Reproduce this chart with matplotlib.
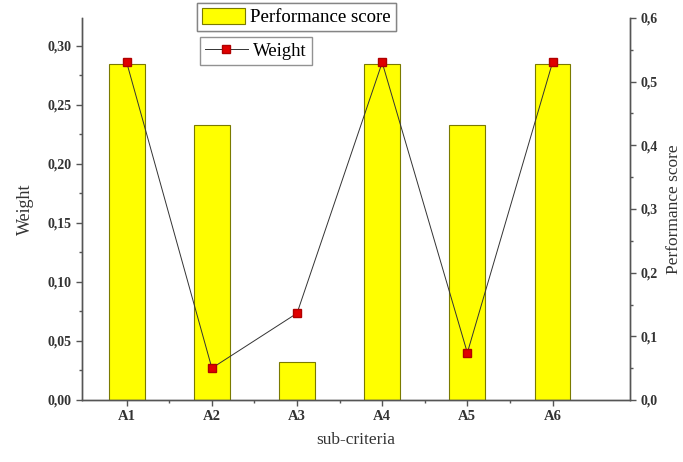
import matplotlib
matplotlib.use("Agg")
import matplotlib.pyplot as plt
from matplotlib.ticker import FixedLocator, MultipleLocator, FuncFormatter

categories = ["A1", "A2", "A3", "A4", "A5", "A6"]
performance = [0.527, 0.432, 0.059, 0.527, 0.432, 0.527]
weight = [0.286, 0.027, 0.0735, 0.286, 0.040, 0.286]

plt.rcParams['font.family'] = ['Liberation Serif', 'DejaVu Serif']

fig = plt.figure(figsize=(6.83, 4.62), dpi=100)
ax = fig.add_axes([82/683, 62/462, 548/683, 382/462])
ax2 = ax.twinx()
ax.set_zorder(2)
ax.patch.set_visible(False)

x = list(range(1, len(categories) + 1))
bars = ax2.bar(x, performance, width=0.42, color="#FFFF00", edgecolor="#7a7a00",
               linewidth=0.8, label="Performance score")
line, = ax.plot(x, weight, color="#333333", linewidth=0.7, marker="s", markersize=5.5,
                markerfacecolor="#e00000", markeredgecolor="#b00000", label="Weight")

ax.set_xlim(0.475, 6.91)
ax.set_ylim(0, 0.3237)
ax2.set_ylim(0, 0.6)

ax.set_xticks(x)
ax.set_xticklabels(categories, fontweight="bold", fontsize=10.5)
ax.xaxis.set_minor_locator(FixedLocator([1.5, 2.5, 3.5, 4.5, 5.5]))
ax.set_yticks([0, 0.05, 0.10, 0.15, 0.20, 0.25, 0.30])
ax.yaxis.set_minor_locator(MultipleLocator(0.025))
ax.yaxis.set_major_formatter(FuncFormatter(lambda v, p: f"{v:.2f}".replace(".", ",")))
ax2.set_yticks([0, 0.1, 0.2, 0.3, 0.4, 0.5, 0.6])
ax2.yaxis.set_minor_locator(MultipleLocator(0.05))
ax2.yaxis.set_major_formatter(FuncFormatter(lambda v, p: f"{v:.1f}".replace(".", ",")))

for a in (ax, ax2):
    a.spines["top"].set_visible(False)
    for s in a.spines.values():
        s.set_color("#555555")
        s.set_linewidth(1.0)
    a.tick_params(which="major", direction="out", length=4, width=1, colors="#555555",
                  labelcolor="#333333")
    a.tick_params(which="minor", direction="out", length=2, width=1, colors="#555555")
for lab in ax.get_yticklabels() + ax2.get_yticklabels():
    lab.set_fontweight("bold")
    lab.set_fontsize(10)

ax.set_xlabel("sub-criteria", fontsize=12.5, color="#333333", labelpad=6)
ax.set_ylabel("Weight", fontsize=13, color="#333333", labelpad=10)
ax2.set_ylabel("Performance score", fontsize=12.5, color="#333333", rotation=90, labelpad=6)

leg_kw = dict(loc="upper left", fontsize=13.5, frameon=True, fancybox=False,
              edgecolor="#777777", borderpad=0.25, handlelength=2.3, handleheight=1.0,
              handletextpad=0.3, borderaxespad=0)
leg1 = fig.legend(handles=[bars], bbox_to_anchor=(197/683, 1 - 3/462), **leg_kw)
leg2 = fig.legend(handles=[line], bbox_to_anchor=(200/683, 1 - 37/462), **leg_kw)
fig.add_artist(leg1)

fig.savefig("out.png", dpi=100)
